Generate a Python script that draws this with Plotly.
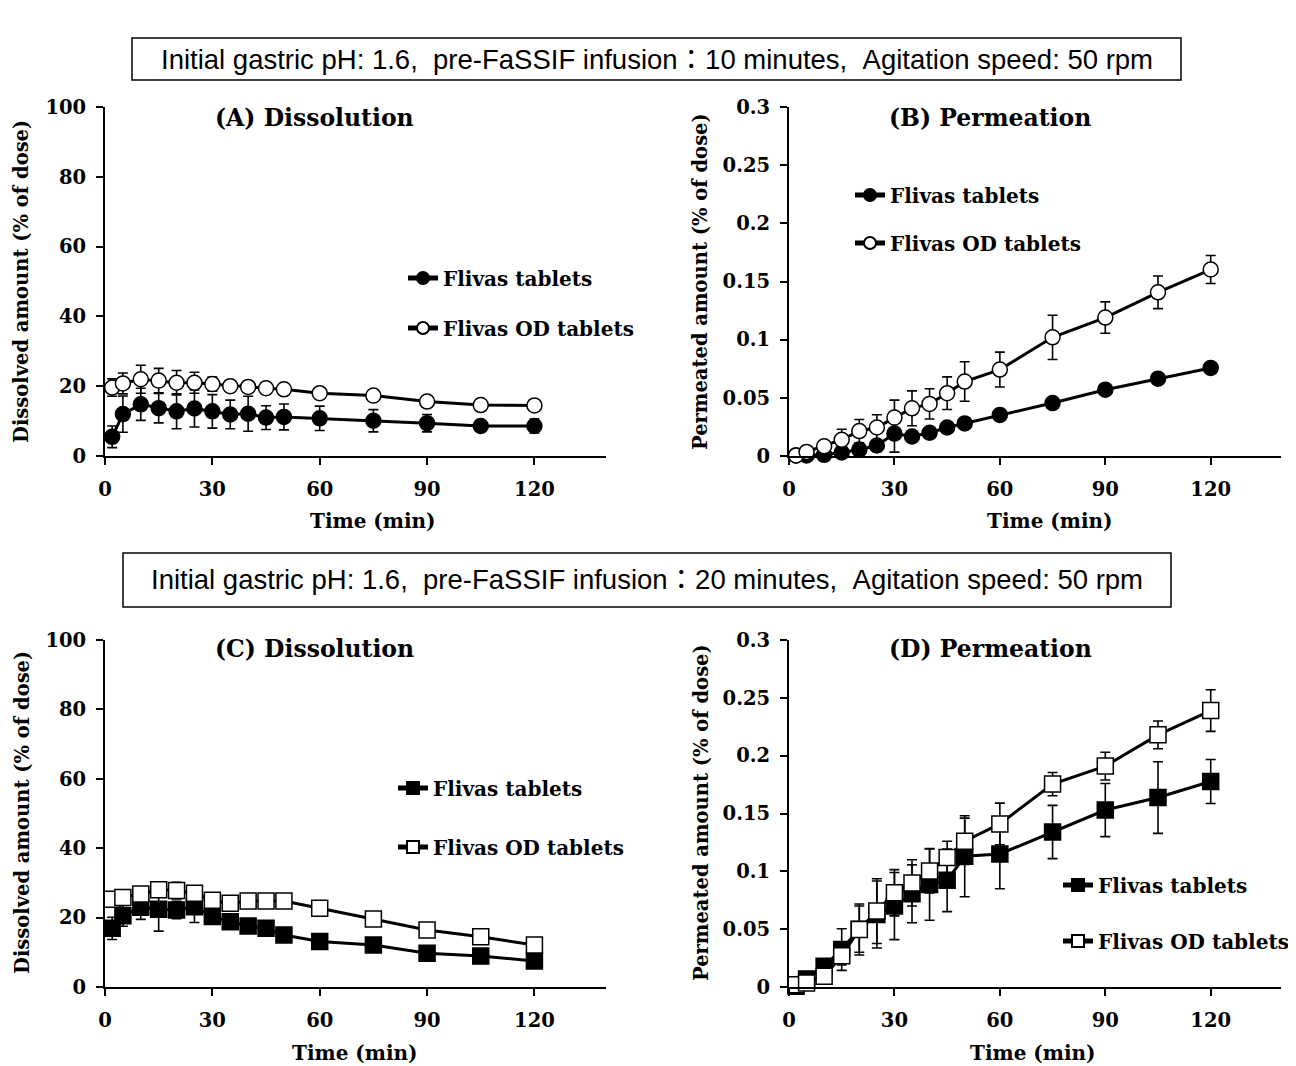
import plotly.graph_objects as go

W, H = 1296, 1066
PAGE_OFFSET = 8  # browser default body margin

# ---------------- data ----------------
time_min = [2, 5, 10, 15, 20, 25, 30, 35, 40, 45, 50, 60, 75, 90, 105, 120]

# (A) Dissolution, pre-FaSSIF 10 min
a_tab = [5.5, 12.0, 14.8, 13.7, 12.8, 13.6, 12.8, 11.9, 12.1, 11.0, 11.2, 10.8, 10.1, 9.4, 8.6, 8.6]
a_tab_sd = [3.1, 5.2, 4.6, 4.2, 5.0, 5.3, 4.8, 4.1, 5.0, 3.4, 3.7, 3.5, 3.2, 2.5, 1.6, 2.0]
a_od = [19.6, 20.8, 22.0, 21.6, 21.0, 21.0, 20.6, 20.0, 19.8, 19.4, 19.1, 18.0, 17.3, 15.6, 14.6, 14.5]
a_od_sd = [2.5, 3.0, 4.0, 3.5, 3.5, 3.0, 2.0, 1.5, 1.5, 1.5, 1.5, 1.5, 1.0, 1.0, 1.5, 1.0]

# (B) Permeation, pre-FaSSIF 10 min
b_tab = [0.0005, 0.0005, 0.001, 0.003, 0.0055, 0.009, 0.0193, 0.0168, 0.020, 0.0245, 0.028, 0.0353, 0.0455, 0.057, 0.0665, 0.0757]
b_tab_sd = [0.0005, 0.0005, 0.001, 0.002, 0.003, 0.005, 0.016, 0.002, 0.002, 0.002, 0.002, 0.002, 0.002, 0.002, 0.002, 0.002]
b_od = [0.0005, 0.0035, 0.0084, 0.014, 0.0214, 0.0245, 0.033, 0.041, 0.0448, 0.054, 0.064, 0.0743, 0.102, 0.119, 0.1407, 0.1603]
b_od_sd = [0.001, 0.002, 0.004, 0.009, 0.010, 0.011, 0.015, 0.015, 0.013, 0.014, 0.017, 0.015, 0.019, 0.0135, 0.014, 0.012]

# (C) Dissolution, pre-FaSSIF 20 min
c_tab = [16.9, 20.5, 23.0, 22.4, 22.2, 23.1, 20.3, 18.8, 17.6, 16.9, 15.0, 13.1, 12.1, 9.7, 8.9, 7.5]
c_tab_sd = [3.2, 3.0, 3.5, 6.3, 2.5, 4.5, 1.5, 1.5, 1.0, 1.0, 1.0, 1.0, 1.0, 1.0, 1.0, 1.0]
c_od = [25.3, 25.8, 26.8, 28.0, 27.8, 27.0, 25.0, 24.1, 24.8, 24.8, 24.8, 22.7, 19.6, 16.4, 14.5, 12.1]
c_od_sd = [2.0, 1.5, 1.5, 1.5, 2.4, 1.5, 1.0, 1.0, 1.0, 1.0, 1.0, 1.0, 1.0, 1.0, 1.0, 1.0]

# (D) Permeation, pre-FaSSIF 20 min
d_tab = [0.0006, 0.007, 0.018, 0.0324, 0.050, 0.0627, 0.070, 0.0806, 0.0887, 0.0922, 0.113, 0.115, 0.134, 0.153, 0.1638, 0.1777]
d_tab_sd = [0.001, 0.003, 0.006, 0.018, 0.020, 0.029, 0.029, 0.025, 0.031, 0.027, 0.035, 0.030, 0.023, 0.023, 0.031, 0.019]
d_od = [0.002, 0.0035, 0.0093, 0.027, 0.0497, 0.0656, 0.0815, 0.090, 0.1003, 0.112, 0.126, 0.141, 0.1754, 0.191, 0.218, 0.239]
d_od_sd = [0.002, 0.002, 0.004, 0.008, 0.022, 0.028, 0.020, 0.020, 0.019, 0.014, 0.020, 0.018, 0.010, 0.012, 0.012, 0.018]

x_ticks = [0, 30, 60, 90, 120]
diss_ticks = [0, 20, 40, 60, 80, 100]
perm_ticks = [0, 0.05, 0.1, 0.15, 0.2, 0.25, 0.3]
perm_ticktext = ["0", "0.05", "0.1", "0.15", "0.2", "0.25", "0.3"]

series_names = ["Flivas tablets", "Flivas OD tablets"]
header_1 = "Initial gastric pH: 1.6,\u00a0\u00a0pre-FaSSIF infusion\uff1a10 minutes,\u00a0\u00a0Agitation speed: 50 rpm"
header_2 = "Initial gastric pH: 1.6,\u00a0\u00a0pre-FaSSIF infusion\uff1a20 minutes,\u00a0\u00a0Agitation speed: 50 rpm"
panel_titles = ["(A) Dissolution", "(B) Permeation", "(C) Dissolution", "(D) Permeation"]
x_title = "Time (min)"
y_title_diss = "Dissolved amount (% of dose)"
y_title_perm = "Permeated amount (% of dose)"

# ---------------- layout helpers ----------------
def px(x):
    return (x - PAGE_OFFSET) / W

def py(y):
    return 1 - (y - PAGE_OFFSET) / H

SERIF = "DejaVu Serif"
SANS = "Liberation Sans, Arial, Noto Sans CJK JP"

fig = go.Figure()

panels = [
    dict(xa="x", ya="y", tab=a_tab, tsd=a_tab_sd, od=a_od, osd=a_od_sd, sym="circle", ms=15,
         leg=("legend", "legend2")),
    dict(xa="x2", ya="y2", tab=b_tab, tsd=b_tab_sd, od=b_od, osd=b_od_sd, sym="circle", ms=15,
         leg=("legend3", "legend4")),
    dict(xa="x3", ya="y3", tab=c_tab, tsd=c_tab_sd, od=c_od, osd=c_od_sd, sym="square", ms=16,
         leg=("legend5", "legend6")),
    dict(xa="x4", ya="y4", tab=d_tab, tsd=d_tab_sd, od=d_od, osd=d_od_sd, sym="square", ms=16,
         leg=("legend7", "legend8")),
]

for p in panels:
    for name, vals, sd, fill, lg in [
        (series_names[0], p["tab"], p["tsd"], "black", p["leg"][0]),
        (series_names[1], p["od"], p["osd"], "white", p["leg"][1]),
    ]:
        fig.add_trace(go.Scatter(
            x=time_min, y=vals, name=name, mode="lines+markers",
            xaxis=p["xa"], yaxis=p["ya"], legend=lg,
            line=dict(color="black", width=3),
            marker=dict(symbol=p["sym"], size=p["ms"], color=fill,
                        line=dict(color="black", width=1.5)),
            error_y=dict(type="data", array=sd, visible=True,
                         color="black", thickness=1.6, width=5),
            cliponaxis=False,
        ))

tick_font = dict(family=SERIF, size=19.5, color="black", weight="bold")

def xaxis_cfg(domain, anchor):
    return dict(domain=domain, anchor=anchor, range=[0, 140], tickvals=x_ticks,
                showline=True, linecolor="black", linewidth=2,
                ticks="outside", ticklen=7, tickwidth=1.5, tickcolor="black",
                showgrid=False, zeroline=False, tickfont=tick_font,
                ticklabelstandoff=8, automargin=False)

def yaxis_cfg(domain, anchor, rng, vals, text=None):
    d = dict(domain=domain, anchor=anchor, range=rng, tickvals=vals,
             showline=True, linecolor="black", linewidth=2,
             ticks="outside", ticklen=7, tickwidth=1.5, tickcolor="black",
             showgrid=False, zeroline=False, tickfont=tick_font,
             ticklabelstandoff=6, automargin=False)
    if text is not None:
        d["ticktext"] = text
    return d

xl = [px(105), px(606)]
xr = [px(789), px(1281)]
yt = [py(456), py(107)]
yb = [py(987), py(640)]

leg_font = dict(family=SERIF, size=20, color="black", weight="bold")

def leg(x, y):
    return dict(x=px(x), y=py(y), xanchor="left", yanchor="middle",
                font=leg_font, bgcolor="rgba(0,0,0,0)", borderwidth=0,
                itemsizing="constant")

fig.update_layout(
    width=W, height=H, margin=dict(l=0, r=0, t=0, b=0, autoexpand=False),
    paper_bgcolor="white", plot_bgcolor="white",
    showlegend=True,
    xaxis=xaxis_cfg(xl, "y"), yaxis=yaxis_cfg(yt, "x", [0, 100], diss_ticks),
    xaxis2=xaxis_cfg(xr, "y2"), yaxis2=yaxis_cfg(yt, "x2", [0, 0.3], perm_ticks, perm_ticktext),
    xaxis3=xaxis_cfg(xl, "y3"), yaxis3=yaxis_cfg(yb, "x3", [0, 100], diss_ticks),
    xaxis4=xaxis_cfg(xr, "y4"), yaxis4=yaxis_cfg(yb, "x4", [0, 0.3], perm_ticks, perm_ticktext),
    legend=leg(403, 278), legend2=leg(403, 328),
    legend3=leg(850, 195), legend4=leg(850, 243),
    legend5=leg(393, 788), legend6=leg(393, 847),
    legend7=leg(1058, 885), legend8=leg(1058, 941),
)

# header boxes
fig.add_shape(type="rect", xref="paper", yref="paper",
              x0=px(132), x1=px(1181), y0=py(80), y1=py(38),
              line=dict(color="black", width=1.5))
fig.add_shape(type="rect", xref="paper", yref="paper",
              x0=px(123), x1=px(1171), y0=py(607), y1=py(553),
              line=dict(color="black", width=1.5))

hdr_font = dict(family=SANS, size=27.5, color="black")
title_font = dict(family=SERIF, size=23.5, color="black")
axt_font = dict(family=SERIF, size=20, color="black")
yt_font = dict(family=SERIF, size=19.5, color="black")

anns = [
    dict(text=header_1, x=px(657), y=py(59), font=hdr_font),
    dict(text=header_2, x=px(647), y=py(579), font=hdr_font),
    dict(text="<b>%s</b>" % panel_titles[0], x=px(314), y=py(118), font=title_font),
    dict(text="<b>%s</b>" % panel_titles[1], x=px(990), y=py(118), font=title_font),
    dict(text="<b>%s</b>" % panel_titles[2], x=px(314), y=py(649), font=title_font),
    dict(text="<b>%s</b>" % panel_titles[3], x=px(990), y=py(649), font=title_font),
    dict(text="<b>%s</b>" % x_title, x=px(373), y=py(521), font=axt_font),
    dict(text="<b>%s</b>" % x_title, x=px(1050), y=py(521), font=axt_font),
    dict(text="<b>%s</b>" % x_title, x=px(355), y=py(1053), font=axt_font),
    dict(text="<b>%s</b>" % x_title, x=px(1033), y=py(1053), font=axt_font),
    dict(text="<b>%s</b>" % y_title_diss, x=px(22), y=py(282), textangle=-90, font=yt_font),
    dict(text="<b>%s</b>" % y_title_perm, x=px(701), y=py(282), textangle=-90, font=yt_font),
    dict(text="<b>%s</b>" % y_title_diss, x=px(22), y=py(813), textangle=-90, font=yt_font),
    dict(text="<b>%s</b>" % y_title_perm, x=px(701), y=py(813), textangle=-90, font=yt_font),
]
for a in anns:
    fig.add_annotation(xref="paper", yref="paper", xanchor="center", yanchor="middle",
                       showarrow=False, **a)

fig.write_html("out.html")
